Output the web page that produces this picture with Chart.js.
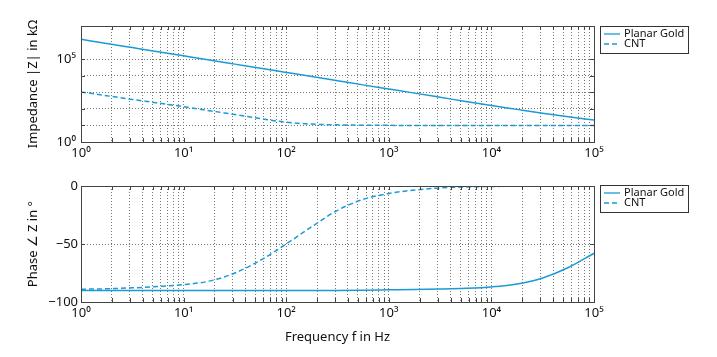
<!DOCTYPE html>
<html><head><meta charset="utf-8">
<script src="https://cdn.jsdelivr.net/npm/chart.js@4/dist/chart.umd.min.js"></script>
<style>
body{margin:0;background:#fff;width:717px;height:357px;overflow:hidden;position:relative}
#c1{position:absolute;left:0;top:0}
#c2{position:absolute;left:0;top:160px}
</style></head><body>
<canvas id="c1" width="717" height="160"></canvas>
<canvas id="c2" width="717" height="197"></canvas>
<script>
// ---- data ----
const freq = [1, 1.78, 3.16, 5.62, 10, 17.8, 31.6, 56.2, 100, 178, 316, 562, 1000, 1780, 3160, 5620, 1e4, 1.78e4, 3.16e4, 5.62e4, 1e5];
const goldZ = [1.58e6, 8.9e5, 5.0e5, 2.8e5, 1.58e5, 8.9e4, 5.0e4, 2.8e4, 1.58e4, 8.9e3, 5.0e3, 2.8e3, 1.58e3, 890, 500, 280, 158, 93, 55, 33, 21];
const cntZ = [1050, 620, 370, 225, 135, 78, 45, 26, 15.5, 12, 10.8, 10.3, 10.1, 10, 10, 10, 10, 10, 10, 10, 10];
const goldPhase = [-90, -90, -90, -90, -90, -90, -90, -90, -90, -90, -90, -89.8, -89.5, -89.2, -88.8, -88.2, -87, -84.5, -79.3, -70.3, -58];
const cntPhase = [-89, -88.6, -87.8, -86.6, -85, -82, -75, -64, -50, -35, -21, -11.5, -6.5, -3.5, -1.6, -0.8, -0.4, -0.2, -0.1, 0, 0];
const seriesNames = ['Planar Gold', 'CNT'];
const xTicks = [];
for (let d = 0; d < 5; d++) for (let m = 1; m < 10; m++) xTicks.push(m * Math.pow(10, d));
xTicks.push(1e5);
const zTicks = [1, 10, 100, 1e3, 1e4, 1e5, 1e7];
const zLabelled = [1, 1e5];
const phaseTicks = [-100, -50, 0];
const xTitle = 'Frequency f in Hz';
const zTitle = 'Impedance |Z| in kΩ';
const phaseTitle = 'Phase ∠ Z in °';

const COLOR = '#1b9ad6';
const FONT = "'Noto Sans', 'DejaVu Sans', sans-serif";
const SUP = {'0':'⁰','1':'¹','2':'²','3':'³','4':'⁴','5':'⁵','6':'⁶','7':'⁷','8':'⁸','9':'⁹'};
function pow10Label(v) {
  const e = Math.round(Math.log10(v));
  return '10' + String(e).split('').map(c => SUP[c]).join('');
}
function pts(ys) { return freq.map((f, i) => ({x: f, y: ys[i]})); }

const boxPlugin = {
  id: 'boxPlugin',
  afterDraw(chart) {
    const ctx = chart.ctx, a = chart.chartArea;
    ctx.save();
    ctx.strokeStyle = '#444'; ctx.lineWidth = 1;
    // inward tick marks
    const xs = chart.scales.x, ys = chart.scales.y;
    ctx.beginPath();
    xs.ticks.forEach(t => {
      const px = Math.round(xs.getPixelForValue(t.value)) + 0.5;
      ctx.moveTo(px, a.bottom); ctx.lineTo(px, a.bottom - 4);
      ctx.moveTo(px, a.top); ctx.lineTo(px, a.top + 4);
    });
    ys.ticks.forEach(t => {
      const py = Math.round(ys.getPixelForValue(t.value)) + 0.5;
      ctx.moveTo(a.left, py); ctx.lineTo(a.left + 4, py);
      ctx.moveTo(a.right, py); ctx.lineTo(a.right - 4, py);
    });
    ctx.stroke();
    ctx.strokeRect(Math.round(a.left) + 0.5, Math.round(a.top) + 0.5, Math.round(a.right - a.left), Math.round(a.bottom - a.top));
    // legend box
    const o = chart.options.plugins.boxPlugin;
    ctx.fillStyle = '#fff';
    ctx.fillRect(o.x, o.y, o.w, o.h);
    ctx.strokeStyle = '#333';
    ctx.strokeRect(o.x + 0.5, o.y + 0.5, o.w, o.h);
    ctx.font = '11px ' + FONT;
    ctx.textBaseline = 'middle';
    chart.data.datasets.forEach((ds, i) => {
      const cy = o.y + 8 + i * 10;
      ctx.strokeStyle = ds.borderColor; ctx.lineWidth = 1.3;
      ctx.setLineDash(ds.borderDash || []);
      ctx.beginPath(); ctx.moveTo(o.x + 4, cy); ctx.lineTo(o.x + 20, cy); ctx.stroke();
      ctx.setLineDash([]);
      ctx.fillStyle = '#111';
      ctx.fillText(ds.label, o.x + 24, cy);
    });
    ctx.restore();
  }
};

function xScale(showTitle, h) {
  return {
    type: 'logarithmic', min: 1, max: 1e5,
    afterBuildTicks: s => { s.ticks = xTicks.map(v => ({value: v})); },
    afterFit: s => { s.height = h; },
    grid: {color: '#777', lineWidth: 1, drawTicks: false},
    border: {display: false, dash: [1, 2]},
    ticks: {
      autoSkip: false, maxRotation: 0, padding: 3, color: '#111',
      font: {family: FONT, size: 13},
      callback: v => (Math.abs(Math.log10(v) - Math.round(Math.log10(v))) < 1e-9 ? pow10Label(v) : '')
    },
    title: {display: showTitle, text: xTitle, color: '#111', font: {family: FONT, size: 13}, padding: {top: 0, bottom: 12}}
  };
}

function commonDatasets(a, b) {
  return [
    {label: seriesNames[0], data: pts(a), borderColor: COLOR, borderWidth: 1.5, pointRadius: 0, cubicInterpolationMode: 'monotone', fill: false},
    {label: seriesNames[1], data: pts(b), borderColor: COLOR, borderWidth: 1.5, borderDash: [5, 3], pointRadius: 0, cubicInterpolationMode: 'monotone', fill: false}
  ];
}

new Chart(document.getElementById('c1'), {
  type: 'line',
  data: {datasets: commonDatasets(goldZ, cntZ)},
  options: {
    responsive: false, animation: false,
    layout: {padding: {top: 26, right: 123, left: 0, bottom: 0}},
    plugins: {legend: {display: false}, tooltip: {enabled: false}, boxPlugin: {x: 600, y: 26, w: 88, h: 27}},
    scales: {
      x: xScale(false, 18),
      y: {
        type: 'logarithmic', min: 1, max: 1e7,
        afterBuildTicks: s => { s.ticks = zTicks.map(v => ({value: v})); },
        afterFit: s => { s.width = 81; },
        grid: {color: ctx => (ctx.tick && ctx.tick.value === 1e7 ? 'rgba(0,0,0,0)' : '#777'), drawTicks: false},
        border: {display: false, dash: [1, 2]},
        ticks: {padding: 5, color: '#111', font: {family: FONT, size: 13},
          callback: v => (zLabelled.includes(v) ? pow10Label(v) : '')},
        title: {display: true, text: zTitle, color: '#111', font: {family: FONT, size: 13}, padding: {top: 25, bottom: 0}}
      }
    }
  },
  plugins: [boxPlugin]
});

new Chart(document.getElementById('c2'), {
  type: 'line',
  data: {datasets: commonDatasets(goldPhase, cntPhase)},
  options: {
    responsive: false, animation: false,
    layout: {padding: {top: 26, right: 123, left: 0, bottom: 0}},
    plugins: {legend: {display: false}, tooltip: {enabled: false}, boxPlugin: {x: 600, y: 25, w: 88, h: 27}},
    scales: {
      x: xScale(true, 55),
      y: {
        type: 'linear', min: -100, max: 0,
        afterBuildTicks: s => { s.ticks = phaseTicks.map(v => ({value: v})); },
        afterFit: s => { s.width = 81; },
        grid: {color: '#777', drawTicks: false},
        border: {display: false, dash: [1, 2]},
        ticks: {padding: 3, color: '#111', font: {family: FONT, size: 13},
          callback: v => (v < 0 ? '−' + Math.abs(v) : String(v))},
        title: {display: true, text: phaseTitle, color: '#111', font: {family: FONT, size: 13}, padding: {top: 25, bottom: 0}}
      }
    }
  },
  plugins: [boxPlugin]
});
</script>
</body></html>
